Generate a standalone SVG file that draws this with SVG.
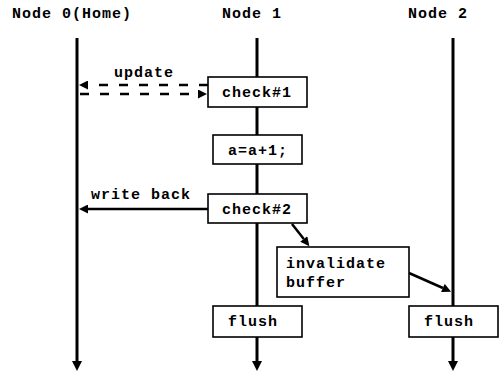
<svg xmlns="http://www.w3.org/2000/svg" width="499" height="373" viewBox="0 0 499 373">
<style>
text{font-family:"Liberation Mono","Courier New",monospace;font-weight:bold;font-size:15px;letter-spacing:1px;fill:#000}
.life{stroke:#000;stroke-width:3;fill:none}
.box{fill:#fff;stroke:#000;stroke-width:1.6}
.arr{stroke:#000;stroke-width:2.5;fill:none}
.dash{stroke-dasharray:9 11}
</style>
<defs>
<marker id="ah" viewBox="0 0 10 10" refX="0" refY="5" markerWidth="10" markerHeight="9" markerUnits="userSpaceOnUse" orient="auto">
<path d="M0,0 L10,5 L0,10 z" fill="#000"/>
</marker>
<marker id="ahL" viewBox="0 0 10 10" refX="0" refY="5" markerWidth="11" markerHeight="10" markerUnits="userSpaceOnUse" orient="auto">
<path d="M0,0 L10,5 L0,10 z" fill="#000"/>
</marker>
</defs>
<g id="node0">
<text x="12" y="18">Node 0(Home)</text>
<line class="life" x1="77" y1="38" x2="77" y2="361" marker-end="url(#ahL)"/>
</g>
<g id="node1">
<text x="222" y="18">Node 1</text>
<line class="life" x1="257" y1="38" x2="257" y2="361" marker-end="url(#ahL)"/>
</g>
<g id="node2">
<text x="408" y="18">Node 2</text>
<line class="life" x1="453" y1="38" x2="453" y2="361" marker-end="url(#ahL)"/>
</g>
<g id="connectors">
<line class="arr dash" x1="208" y1="85" x2="88" y2="85" marker-end="url(#ah)"/>
<line class="arr dash" x1="80" y1="94" x2="198" y2="94" marker-end="url(#ah)"/>
<text x="114" y="77">update</text>
<line class="arr" x1="208" y1="209" x2="88" y2="209" marker-end="url(#ah)"/>
<text x="91" y="199">write back</text>
<line class="arr" x1="292" y1="224" x2="303.8" y2="239.1" marker-end="url(#ah)"/>
<line class="arr" x1="409" y1="273" x2="442.9" y2="288" marker-end="url(#ah)"/>
</g>
<g id="check1">
<rect class="box" x="208" y="77" width="99" height="30"/>
<text x="222" y="97">check#1</text>
</g>
<g id="inc">
<rect class="box" x="213" y="135" width="89" height="29"/>
<text x="228" y="155">a=a+1;</text>
</g>
<g id="check2">
<rect class="box" x="208" y="194" width="99" height="29"/>
<text x="222" y="214">check#2</text>
</g>
<g id="invalidate">
<rect class="box" x="277" y="247" width="132" height="50"/>
<text x="286" y="268">invalidate</text>
<text x="286" y="287">buffer</text>
</g>
<g id="flush1">
<rect class="box" x="213" y="306" width="89" height="31"/>
<text x="228" y="326">flush</text>
</g>
<g id="flush2">
<rect class="box" x="409" y="306" width="89" height="31"/>
<text x="424" y="326">flush</text>
</g>
</svg>
